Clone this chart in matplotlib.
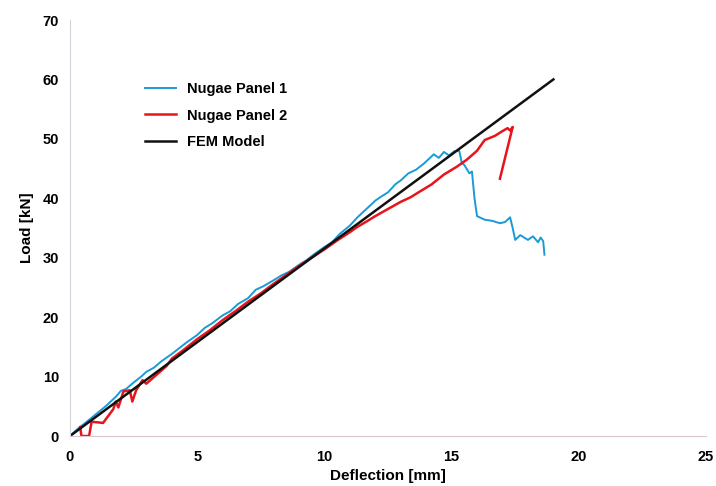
import matplotlib
matplotlib.use("Agg")
import matplotlib.pyplot as plt

# Nugae Panel 1 (blue)
p1_x = [0, 0.3, 0.6, 1.0, 1.4, 1.8, 2.0, 2.2, 2.5, 2.8, 3.0, 3.3, 3.6, 4.0, 4.3, 4.6,
        5.0, 5.3, 5.6, 6.0, 6.3, 6.6, 7.0, 7.3, 7.6, 8.0, 8.3, 8.6, 9.0, 9.3, 9.6,
        10.0, 10.3, 10.6, 11.0, 11.3, 11.6, 12.0, 12.2, 12.5, 12.8, 13.0, 13.3, 13.6,
        13.9, 14.1, 14.3, 14.5, 14.7, 14.9, 15.1, 15.3, 15.4, 15.5, 15.7, 15.8, 15.9,
        16.0, 16.3, 16.6, 16.9, 17.1, 17.3, 17.4, 17.5, 17.7, 18.0, 18.2, 18.4, 18.5,
        18.6, 18.65]
p1_y = [0, 1.2, 2.2, 3.6, 5.0, 6.6, 7.6, 7.9, 9.0, 10.0, 10.8, 11.5, 12.6, 13.8, 14.8, 15.8,
        17.0, 18.2, 19.0, 20.3, 21.0, 22.2, 23.2, 24.6, 25.2, 26.2, 27.0, 27.6, 28.8, 29.6, 30.6,
        31.8, 32.6, 34.0, 35.4, 36.8, 38.0, 39.6, 40.2, 41.0, 42.4, 43.0, 44.2, 44.8,
        45.8, 46.6, 47.4, 46.8, 47.8, 47.2, 47.9, 48.0, 46.0, 45.6, 44.2, 44.5, 40.0,
        37.0, 36.4, 36.2, 35.8, 36.0, 36.8, 35.0, 33.0, 33.8, 33.0, 33.6, 32.6, 33.4,
        32.8, 30.5]

# Nugae Panel 2 (red)
p2_x = [0.4, 0.45, 0.75, 0.85, 1.3, 1.7, 1.8, 1.9, 2.1, 2.35, 2.45, 2.6, 2.85, 3.0, 3.4,
        3.8, 4.0, 4.5, 5.0, 5.5, 6.0, 6.5, 7.0, 7.5, 8.0, 8.5, 9.0, 9.5, 10.0, 10.5,
        11.0, 11.3, 11.7, 12.0, 12.5, 13.0, 13.4, 13.7, 14.2, 14.7, 15.2, 15.6, 16.0,
        16.3, 16.7, 17.0, 17.2, 17.3, 17.4, 16.9]
p2_y = [1.5, 0, 0, 2.4, 2.2, 4.5, 5.8, 4.8, 7.5, 7.7, 5.8, 7.7, 9.4, 8.8, 10.3,
        11.8, 13.0, 14.6, 16.3, 17.8, 19.5, 21.0, 22.6, 24.0, 25.6, 27.1, 28.6, 30.0, 31.4, 32.9,
        34.3, 35.2, 36.2, 37.0, 38.2, 39.4, 40.2, 41.0, 42.3, 44.0, 45.3, 46.5, 48.0,
        49.8, 50.5, 51.3, 51.8, 51.4, 52.0, 43.3]

# FEM Model
fem_x = [0, 19]
fem_y = [0, 60]

x_ticks = [0, 5, 10, 15, 20, 25]
y_ticks = [0, 10, 20, 30, 40, 50, 60, 70]

plt.rcParams['font.family'] = ['Liberation Sans', 'DejaVu Sans']
fig = plt.figure(figsize=(7.16, 4.86), dpi=100)
ax = fig.add_axes([70/716, 50/486, 636/716, 416/486])

ax.plot(p1_x, p1_y, color='#1a9ad6', lw=1.4, label='Nugae Panel 1')
ax.plot(p2_x, p2_y, color='#e8141c', lw=1.8, label='Nugae Panel 2')
ax.plot(fem_x, fem_y, color='#111111', lw=1.8, label='FEM Model')

ax.set_xlim(0, 25)
ax.set_ylim(0, 70)
ax.set_xticks(x_ticks)
ax.set_yticks(y_ticks)
ax.tick_params(axis='x', length=0, labelsize=10.5, pad=10)
ax.tick_params(axis='y', length=0, labelsize=10.5, pad=8)
for lab in ax.get_xticklabels() + ax.get_yticklabels():
    lab.set_fontweight('bold')
ax.set_xlabel('Deflection [mm]', fontsize=11, fontweight='bold', labelpad=4)
ax.set_ylabel('Load [kN]', fontsize=11, fontweight='bold', labelpad=6)

for s in ['top', 'right']:
    ax.spines[s].set_visible(False)
ax.spines['left'].set_color('#d3d6dc')
ax.spines['bottom'].set_color('#dcc8cc')

leg = ax.legend(loc='upper left', bbox_to_anchor=(132/716, 1 - 69/486),
                bbox_transform=fig.transFigure, frameon=False,
                prop={'weight': 'bold', 'size': 10.5}, handlelength=2.1,
                labelspacing=0.85, handletextpad=0.8)

fig.savefig('out.png', dpi=100)
